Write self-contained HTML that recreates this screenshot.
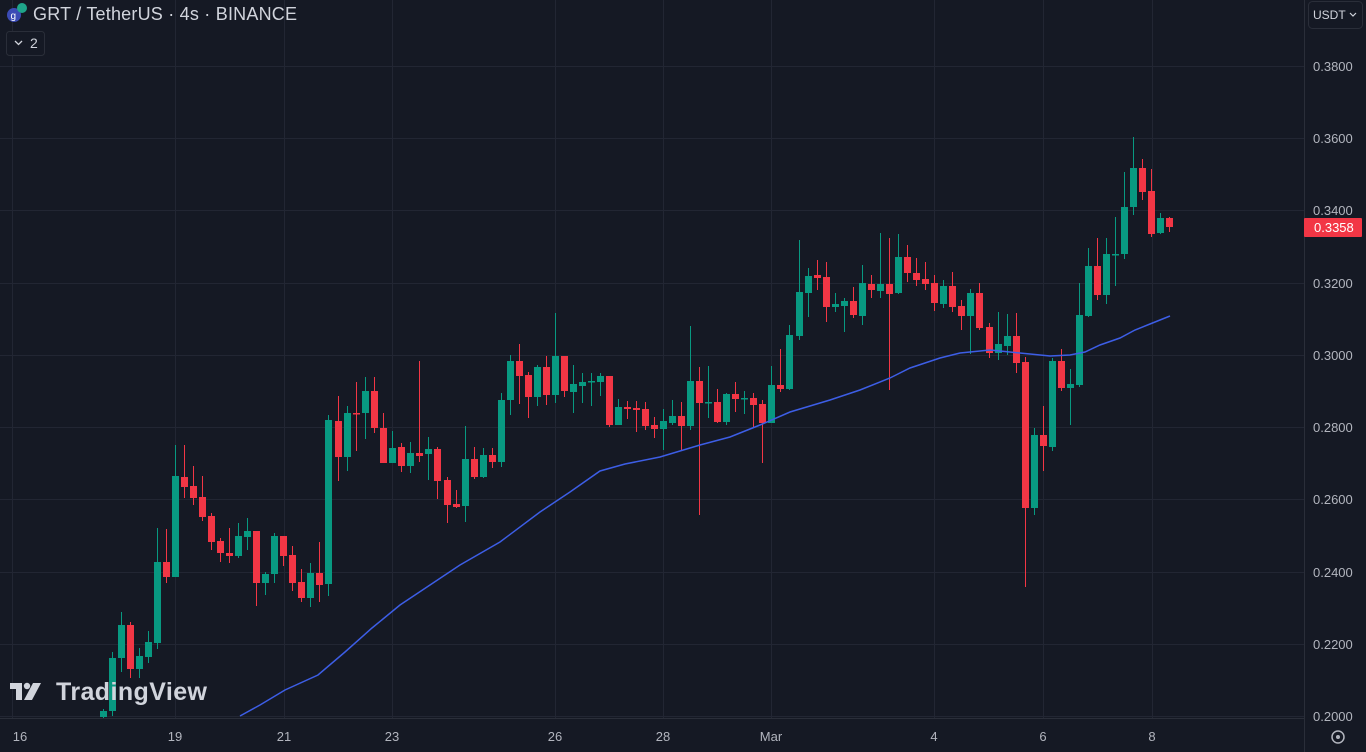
<!DOCTYPE html>
<html><head><meta charset="utf-8"><style>
html,body{margin:0;padding:0;background:#151924;width:1366px;height:752px;overflow:hidden;font-family:"Liberation Sans",sans-serif}
svg{position:absolute;left:0;top:0}
</style></head><body>
<svg id="c" width="1366" height="752" xmlns="http://www.w3.org/2000/svg">
<rect width="1366" height="752" fill="#151924"/>
<g id="grid" stroke="#232733" stroke-width="1"></g>
<g id="cand"></g>
<polyline fill="none" stroke="#3d5ee6" stroke-width="1.5" points="240,716 260,705 285,690 318,675 345,652 372,628 400,605 430,585 460,565 500,542 540,512 570,492 600,471 625,464 660,457 700,445 730,437 760,425 790,412 830,400 860,390 890,378 910,368 940,358 960,353 990,350 1010,352 1030,354 1050,356 1070,355 1085,352 1100,345 1120,338 1135,330 1150,324 1170,316"/>
<line x1="1304.5" y1="0" x2="1304.5" y2="752" stroke="#2a2e39"/>
<line x1="0" y1="718.5" x2="1304" y2="718.5" stroke="#2a2e39"/>
<g id="ylab" fill="#b2b5be" font-size="13" font-family="Liberation Sans, sans-serif"></g>
<g fill="#b2b5be" font-size="13" font-family="Liberation Sans, sans-serif" text-anchor="middle">
<text x="20" y="741">16</text><text x="175" y="741">19</text><text x="284" y="741">21</text><text x="392" y="741">23</text><text x="555" y="741">26</text><text x="663" y="741">28</text><text x="771" y="741">Mar</text><text x="934" y="741">4</text><text x="1043" y="741">6</text><text x="1152" y="741">8</text>
</g>
<rect x="1304" y="218" width="58" height="19" fill="#f23645" rx="1"/>
<text x="1314" y="232" fill="#fff" font-size="13" font-family="Liberation Sans, sans-serif">0.3358</text>
<rect x="1308.5" y="1.5" width="54" height="27" rx="4" fill="#151924" stroke="#2a2e39"/>
<text x="1313" y="19" fill="#d1d4dc" font-size="12" font-family="Liberation Sans, sans-serif">USDT</text>
<path d="M1350 13 l3 3 l3 -3" fill="none" stroke="#d1d4dc" stroke-width="1.2"/>
<circle cx="1338" cy="737" r="6" fill="none" stroke="#b2b5be" stroke-width="1.5"/><circle cx="1338" cy="737" r="2" fill="#b2b5be"/>
<circle cx="14" cy="15" r="7" fill="#3b4bb5"/><text x="10.5" y="19" fill="#fff" font-size="10">g</text>
<circle cx="22" cy="8" r="5" fill="#1fa58a"/>
<text x="33" y="20" fill="#d1d4dc" font-size="18" textLength="264" font-family="Liberation Sans, sans-serif">GRT / TetherUS · 4s · BINANCE</text>
<rect x="6.5" y="31.5" width="38" height="24" rx="3" fill="#151924" stroke="#2a2e39"/>
<path d="M15 41 l3.5 3.5 l3.5 -3.5" fill="none" stroke="#d1d4dc" stroke-width="1.3"/>
<text x="30" y="48" fill="#d1d4dc" font-size="14">2</text>
<g fill="#d1d4dc"><rect x="10" y="683" width="12" height="6"/><rect x="16" y="683" width="6" height="17"/><circle cx="27" cy="686" r="3.2"/><path d="M33 683 h8 l-9 17 h-8 z"/></g>
<text x="56" y="700" fill="#d1d4dc" font-size="25" textLength="151" font-weight="bold" font-family="Liberation Sans, sans-serif">TradingView</text>
</svg>
<script>
var ns="http://www.w3.org/2000/svg";
function el(t,a,p){var e=document.createElementNS(ns,t);for(var k in a)e.setAttribute(k,a[k]);p.appendChild(e);return e;}
var g=document.getElementById('grid');
[12,175,284,392,555,663,771,934,1043,1152].forEach(function(x){el('line',{x1:x+.5,y1:0,x2:x+.5,y2:718,stroke:'#222633'},g);});
var yl=document.getElementById('ylab');
for(var i=0;i<=9;i++){var p=0.2+i*0.02;var y=716-(p-0.2)*3611;y=Math.round(y);
el('line',{x1:0,y1:y+.5,x2:1304,y2:y+.5,stroke:'#222633'},g);
if(p<0.335||p>0.345){var t=el('text',{x:1313,y:y+5},yl);t.textContent=p.toFixed(4);}}
var t=el('text',{x:1313,y:215},yl);t.textContent='0.3400';
var C=[[103,717,711,709,718],[112,711,658,652,716],[121,658,625,612,672],[130,625,669,622,678],[139,669,656,648,678],[148,657,642,631,663],[157,643,562,528,649],[166,562,577,529,583],[175,577,476,445,577],[184,477,487,445,498],[193,486,498,466,505],[202,497,517,476,521],[211,516,542,513,550],[220,541,553,538,562],[229,553,556,528,563],[238,556,536,523,558],[247,537,531,518,550],[256,531,583,531,606],[265,583,574,572,595],[274,574,536,533,583],[283,536,556,536,566],[292,555,583,546,591],[301,582,598,569,602],[310,598,573,563,607],[319,573,585,542,602],[328,584,420,415,596],[338,421,457,396,481],[347,457,413,406,471],[356,413,414,382,451],[365,413,391,377,439],[374,391,428,377,433],[383,428,463,413,463],[392,463,448,431,463],[401,447,466,443,472],[410,466,453,442,473],[419,453,456,361,462],[428,454,449,437,480],[437,449,481,447,499],[447,480,505,477,523],[456,504,507,490,508],[465,506,459,426,522],[474,459,477,447,479],[483,477,455,448,478],[492,455,462,448,468],[501,462,400,393,467],[510,400,361,355,415],[519,361,376,344,404],[528,375,397,372,418],[537,397,367,365,406],[546,367,395,356,405],[555,395,356,313,403],[564,356,391,356,397],[573,392,384,365,413],[582,386,382,373,403],[591,381,381,373,406],[600,382,376,373,396],[609,376,425,376,427],[618,425,407,399,425],[627,407,409,401,419],[636,408,410,401,432],[645,409,426,402,430],[654,425,429,417,438],[663,429,421,409,450],[672,423,416,400,425],[681,416,426,402,450],[690,426,381,326,430],[699,381,403,367,515],[708,402,402,366,418],[717,402,422,389,423],[726,422,394,393,425],[735,394,399,382,412],[744,398,398,391,414],[753,398,405,393,427],[762,404,423,400,463],[771,423,385,366,423],[780,385,389,349,392],[789,389,335,325,390],[799,336,292,240,340],[808,293,276,268,317],[817,275,278,260,290],[826,277,307,262,322],[835,307,304,293,312],[844,306,301,298,332],[853,301,315,287,318],[862,316,283,265,325],[871,284,290,275,298],[880,291,284,233,298],[889,284,294,238,390],[898,293,257,234,294],[907,257,273,245,282],[916,273,280,258,286],[925,279,284,262,290],[934,283,303,275,311],[943,304,286,280,308],[952,286,307,272,312],[961,306,316,300,330],[970,316,293,289,354],[979,293,328,283,330],[989,327,353,323,358],[998,353,344,312,360],[1007,346,336,314,355],[1016,336,363,313,373],[1025,362,508,357,587],[1034,508,435,428,515],[1043,435,446,406,471],[1052,447,361,358,451],[1061,361,388,349,391],[1070,388,384,369,425],[1079,385,315,283,387],[1088,316,266,248,317],[1097,266,295,238,300],[1106,295,254,238,304],[1115,254,254,217,286],[1124,254,207,172,259],[1133,207,168,137,215],[1142,168,192,159,200],[1151,191,234,169,237],[1160,233,218,213,234],[1169,218,227,217,232]];
var cg=document.getElementById('cand');
C.forEach(function(c){var x=c[0],o=c[1],cl=c[2],h=c[3],l=c[4];
var up=cl<=o;var col=up?'#089981':'#f23645';
el('line',{x1:x+.5,y1:h,x2:x+.5,y2:l,stroke:col,'stroke-width':1},cg);
var top=Math.min(o,cl),bh=Math.max(Math.abs(o-cl),1.5);
el('rect',{x:x-3,y:top,width:7,height:bh,fill:col},cg);});
</script>
</body></html>
